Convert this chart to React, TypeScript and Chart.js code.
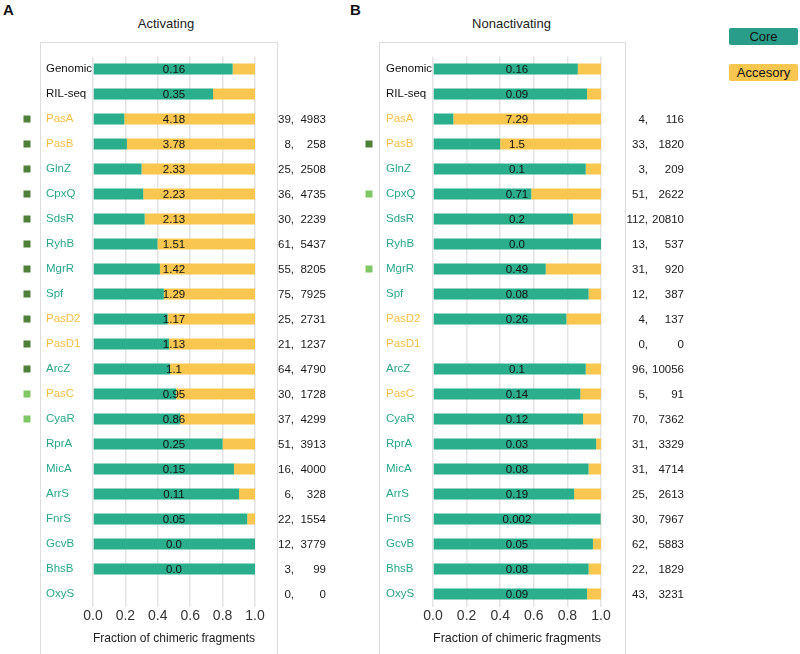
import React, { useEffect, useRef } from "react";
import { Chart, registerables } from "chart.js";
Chart.register(...registerables);

const FONT = "'Liberation Sans', Arial, Helvetica, sans-serif";

const categories = ["Genomic", "RIL-seq", "PasA", "PasB", "GlnZ", "CpxQ", "SdsR", "RyhB", "MgrR", "Spf", "PasD2", "PasD1", "ArcZ", "PasC", "CyaR", "RprA", "MicA", "ArrS", "FnrS", "GcvB", "BhsB", "OxyS"];
const labelKinds = ["ref", "ref", "pas", "pas", "core", "core", "core", "core", "core", "core", "pas", "pas", "core", "pas", "core", "core", "core", "core", "core", "core", "core", "core"];
const xTicks = [0, 0.2, 0.4, 0.6, 0.8, 1.0];

// Activating
const actCore = [0.862, 0.741, 0.193, 0.209, 0.300, 0.310, 0.319, 0.398, 0.413, 0.437, 0.461, 0.469, 0.476, 0.513, 0.538, 0.800, 0.870, 0.901, 0.952, 1.0, 1.0, null];
const actAccessory = [0.138, 0.259, 0.807, 0.791, 0.700, 0.690, 0.681, 0.602, 0.587, 0.563, 0.539, 0.531, 0.524, 0.487, 0.462, 0.200, 0.130, 0.099, 0.048, 0, 0, null];
const actRatio = ["0.16", "0.35", "4.18", "3.78", "2.33", "2.23", "2.13", "1.51", "1.42", "1.29", "1.17", "1.13", "1.1", "0.95", "0.86", "0.25", "0.15", "0.11", "0.05", "0.0", "0.0", ""];
const actChimeras = [null, null, 39, 8, 25, 36, 30, 61, 55, 75, 25, 21, 64, 30, 37, 51, 16, 6, 22, 12, 3, 0];
const actFragments = [null, null, 4983, 258, 2508, 4735, 2239, 5437, 8205, 7925, 2731, 1237, 4790, 1728, 4299, 3913, 4000, 328, 1554, 3779, 99, 0];
const actMarkers = ["", "", "dark", "dark", "dark", "dark", "dark", "dark", "dark", "dark", "dark", "dark", "dark", "light", "light", "", "", "", "", "", "", ""];

// Nonactivating
const nonCore = [0.862, 0.917, 0.121, 0.400, 0.909, 0.585, 0.833, 1.0, 0.671, 0.926, 0.794, null, 0.909, 0.877, 0.893, 0.971, 0.926, 0.840, 0.998, 0.952, 0.926, 0.917];
const nonAccessory = [0.138, 0.083, 0.879, 0.600, 0.091, 0.415, 0.167, 0, 0.329, 0.074, 0.206, null, 0.091, 0.123, 0.107, 0.029, 0.074, 0.160, 0.002, 0.048, 0.074, 0.083];
const nonRatio = ["0.16", "0.09", "7.29", "1.5", "0.1", "0.71", "0.2", "0.0", "0.49", "0.08", "0.26", "", "0.1", "0.14", "0.12", "0.03", "0.08", "0.19", "0.002", "0.05", "0.08", "0.09"];
const nonChimeras = [null, null, 4, 33, 3, 51, 112, 13, 31, 12, 4, 0, 96, 5, 70, 31, 31, 25, 30, 62, 22, 43];
const nonFragments = [null, null, 116, 1820, 209, 2622, 20810, 537, 920, 387, 137, 0, 10056, 91, 7362, 3329, 4714, 2613, 7967, 5883, 1829, 3231];
const nonMarkers = ["", "", "", "dark", "", "light", "", "", "light", "", "", "", "", "", "", "", "", "", "", "", "", ""];

const BAR_GREEN = "#2aae8b";
const BAR_YELLOW = "#f9c64f";
const LEGEND_GREEN = "#2a9d8a";
const LABEL_COLORS: Record<string, string> = { ref: "#111111", pas: "#f5bf45", core: "#2aa78b" };
const MARKER_COLORS: Record<string, string> = { dark: "#4f8039", light: "#80c865" };

type PanelProps = {
  left: number;
  width: number;
  padRight: number;
  core: (number | null)[];
  accessory: (number | null)[];
  ratio: string[];
  chimeras: (number | null)[];
  fragments: (number | null)[];
  markers: string[];
  markerX: number;
  countX1: number;
  countX2: number;
};

function Panel(p: PanelProps) {
  const ref = useRef<HTMLCanvasElement | null>(null);
  useEffect(() => {
    const canvas = ref.current;
    if (!canvas) return;
    const decor = {
      id: "decor",
      afterDatasetsDraw(chart: any) {
        const ctx = chart.ctx;
        const xs = chart.scales.x;
        const ys = chart.scales.y;
        ctx.save();
        categories.forEach((_, i) => {
          const y = ys.getPixelForValue(i);
          if (p.ratio[i]) {
            ctx.font = `11.5px ${FONT}`;
            ctx.fillStyle = "#111";
            ctx.textAlign = "center";
            ctx.textBaseline = "middle";
            ctx.fillText(p.ratio[i], xs.getPixelForValue(0.5), y + 1);
          }
          if (p.chimeras[i] !== null && p.fragments[i] !== null) {
            ctx.font = `11.5px ${FONT}`;
            ctx.fillStyle = "#1a1a1a";
            ctx.textAlign = "right";
            ctx.textBaseline = "middle";
            ctx.fillText(`${p.chimeras[i]},`, p.countX1, y + 1);
            ctx.fillText(String(p.fragments[i]), p.countX2, y + 1);
          }
          const m = p.markers[i];
          if (m) {
            ctx.fillStyle = MARKER_COLORS[m];
            ctx.fillRect(p.markerX - 3.5, y - 3.5, 7, 7);
          }
        });
        ctx.restore();
      },
    };
    const chart = new Chart(canvas, {
      type: "bar",
      data: {
        labels: categories,
        datasets: [
          { label: "Core", data: p.core as any, backgroundColor: BAR_GREEN, barPercentage: 0.88, categoryPercentage: 0.5 },
          { label: "Accesory", data: p.accessory as any, backgroundColor: BAR_YELLOW, barPercentage: 0.88, categoryPercentage: 0.5 },
        ],
      },
      options: {
        indexAxis: "y",
        responsive: false,
        animation: false,
        layout: { padding: { left: 46, right: p.padRight, top: 56.5, bottom: 0 } },
        plugins: { legend: { display: false }, tooltip: { enabled: false }, title: { display: false } },
        scales: {
          x: {
            stacked: true,
            min: 0,
            max: 1,
            position: "bottom",
            afterBuildTicks: (s: any) => {
              s.ticks = xTicks.map((v) => ({ value: v }));
            },
            ticks: {
              callback: (v: any) => Number(v).toFixed(1),
              color: "#333",
              font: { size: 14, family: FONT },
              padding: 1,
              maxRotation: 0,
            },
            grid: { color: "#e3e3e3", lineWidth: 1.5, drawTicks: false },
            border: { display: false },
            title: {
              display: true,
              text: "Fraction of chimeric fragments",
              color: "#222",
              font: { size: 13, family: FONT },
              padding: { top: 0, bottom: 8 },
            },
            afterFit: (s: any) => {
              s.height = 47.5;
            },
          },
          y: {
            stacked: true,
            ticks: {
              crossAlign: "far",
              autoSkip: false,
              padding: 0,
              color: (c: any) => LABEL_COLORS[labelKinds[c.index]] || "#111",
              font: { size: 11.5, family: FONT },
            },
            grid: { display: false },
            border: { display: false },
            afterFit: (s: any) => {
              s.width = 47;
            },
          },
        },
      } as any,
      plugins: [decor],
    });
    return () => chart.destroy();
  }, []);
  return (
    <canvas
      ref={ref}
      width={p.width}
      height={654}
      style={{ position: "absolute", left: p.left, top: 0, width: p.width, height: 654 }}
    />
  );
}

export default function App() {
  useEffect(() => {
    document.body.style.margin = "0";
  }, []);
  const text = (s: React.CSSProperties): React.CSSProperties => ({
    position: "absolute",
    fontFamily: FONT,
    color: "#222",
    whiteSpace: "nowrap",
    lineHeight: 1,
    ...s,
  });
  return (
    <div style={{ position: "relative", width: 800, height: 654, overflow: "hidden", background: "#fff" }}>
      <div style={{ position: "absolute", left: 40, top: 42, width: 236, height: 640, border: "1.5px solid #dddddd" }} />
      <div style={{ position: "absolute", left: 379, top: 42, width: 245, height: 640, border: "1.5px solid #dddddd" }} />
      <div style={text({ left: 3, top: 2, fontSize: 15, fontWeight: "bold", color: "#111" })}>A</div>
      <div style={text({ left: 350, top: 2, fontSize: 15, fontWeight: "bold", color: "#111" })}>B</div>
      <div style={text({ left: 166, top: 17, fontSize: 13, transform: "translateX(-50%)" })}>Activating</div>
      <div style={text({ left: 511.5, top: 17, fontSize: 13, transform: "translateX(-50%)" })}>Nonactivating</div>
      <Panel
        left={0}
        width={340}
        padRight={85}
        core={actCore}
        accessory={actAccessory}
        ratio={actRatio}
        chimeras={actChimeras}
        fragments={actFragments}
        markers={actMarkers}
        markerX={27}
        countX1={294}
        countX2={326}
      />
      <Panel
        left={340}
        width={360}
        padRight={99}
        core={nonCore}
        accessory={nonAccessory}
        ratio={nonRatio}
        chimeras={nonChimeras}
        fragments={nonFragments}
        markers={nonMarkers}
        markerX={29}
        countX1={308}
        countX2={344}
      />
      <div
        style={text({
          left: 729, top: 28, width: 69, height: 17, background: LEGEND_GREEN, borderRadius: 2,
          fontSize: 13, color: "#111", textAlign: "center", lineHeight: "17px",
        })}
      >
        Core
      </div>
      <div
        style={text({
          left: 729, top: 64, width: 69, height: 17, background: BAR_YELLOW, borderRadius: 2,
          fontSize: 13, color: "#111", textAlign: "center", lineHeight: "17px",
        })}
      >
        Accesory
      </div>
    </div>
  );
}
